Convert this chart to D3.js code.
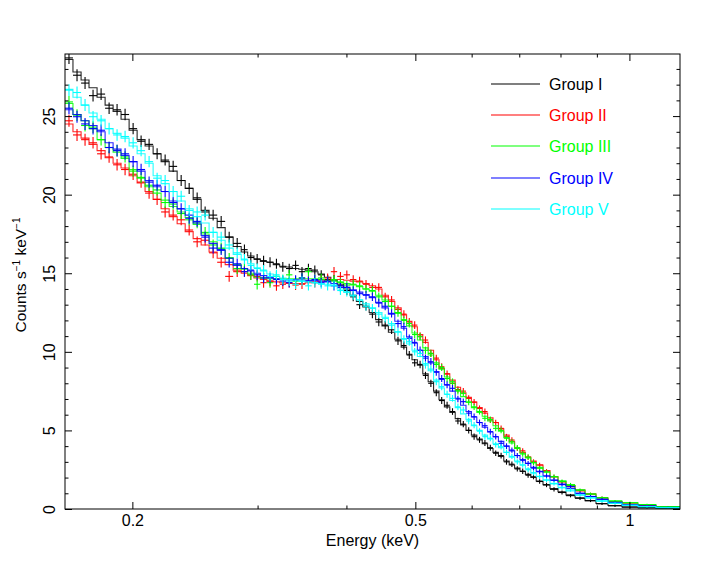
<!DOCTYPE html>
<html>
<head>
<meta charset="utf-8">
<script src="https://cdn.jsdelivr.net/npm/d3@7"></script>
<style>
  body { margin: 0; background: #fff; }
  svg { display: block; font-family: "Liberation Sans", Arial, Helvetica, sans-serif; }
</style>
</head>
<body>
<svg id="chart" width="725" height="564"></svg>
<script>
// ---- Data ----
const binEdges = [
  0.1608,0.1650,0.1694,0.1738,0.1784,0.1831,0.1879,0.1928,0.1979,0.2031,0.2084,0.2139,0.2195,0.2253,0.2312,0.2373,0.2435,0.2499,0.2564,0.2632,0.2701,0.2772,
  0.2845,0.2905,0.2965,0.3027,0.3091,0.3156,0.3222,0.3289,0.3358,0.3428,0.3500,0.3574,0.3648,0.3725,0.3803,0.3882,0.3964,0.4047,0.4131,0.4218,0.4306,0.4396,0.4488,0.4582,0.4678,
  0.4776,0.4860,0.4946,0.5033,0.5122,0.5212,0.5304,0.5398,0.5493,0.5590,0.5689,0.5789,0.5891,0.5995,0.6101,0.6209,0.6318,0.6430,0.6543,0.6658,0.6776,0.6895,0.7017,0.7141,0.7267,
  0.7395,0.7560,0.7733,0.7936,0.8144,0.8386,0.8661,0.8975,0.9331,0.9763,1.0283,1.0899,
  1.1782
];

const errors = [
  0.38,0.38,0.38,0.37,0.37,0.37,0.37,0.36,0.36,0.36,0.36,0.35,0.35,0.35,0.35,0.35,0.34,0.34,0.34,0.34,0.34,0.34,
  0.33,0.33,0.33,0.32,0.32,0.32,0.31,0.31,0.31,0.3,0.3,0.3,0.29,0.29,0.29,0.28,0.28,0.28,0.27,0.27,0.27,0.27,0.26,0.26,0.26,
  0.25,0.25,0.24,0.24,0.23,0.23,0.22,0.22,0.22,0.21,0.21,0.2,0.2,0.2,0.19,0.19,0.19,0.18,0.18,0.18,0.17,0.17,0.17,0.16,0.16,
  0.15,0.14,0.13,0.12,0.11,0.1,0.09,0.08,0.07,0.06,0.05,0.04
];

const groupNames = ["Group I", "Group II", "Group III", "Group IV", "Group V"];
const groupColors = ["#000000", "#ff0000", "#00ff00", "#0000ff", "#00ffff"];

const modelI = [
  28.6,27.8,27.3,26.8,26.2,25.7,25.3,24.8,24.1,23.5,23.1,22.6,22.1,21.5,20.9,20.4,19.7,19.0,18.5,17.9,17.3,16.7,
  16.35,16.1,15.9,15.75,15.7,15.55,15.45,15.4,15.3,15.25,15.2,15.1,14.95,14.75,14.55,14.3,14.0,13.6,13.2,12.85,12.5,12.05,11.65,11.25,10.8,
  10.3,9.85,9.5,9.15,8.6,8.1,7.5,6.95,6.5,6.15,5.75,5.35,5.0,4.7,4.45,4.15,3.85,3.6,3.35,3.05,2.8,2.6,2.4,2.2,2.0,
  1.78,1.55,1.3,1.1,0.9,0.72,0.53,0.35,0.22,0.13,0.09,0.05
];
const dataI = [
  28.7,27.6,27.1,26.3,26.4,25.5,25.4,25.1,24.2,23.4,23.2,22.6,22.2,21.8,20.9,20.4,19.8,18.9,18.7,18.3,17.3,16.9,
  16.5,16.0,15.9,15.8,15.7,15.6,15.4,15.3,15.5,15.1,15.3,15.2,14.9,14.6,14.6,14.2,13.9,13.5,13.0,12.9,12.4,11.9,11.7,11.4,10.7,
  10.4,9.8,9.3,9.2,8.5,8.0,7.4,6.9,6.6,6.2,5.6,5.4,5.0,4.6,4.4,4.2,3.9,3.55,3.4,3.0,2.85,2.55,2.4,2.15,2.05,
  1.75,1.53,1.25,1.05,0.85,0.68,0.53,0.33,0.2,0.12,0.08,0.05
];

const modelII = [
  24.5,24.0,23.6,23.2,22.8,22.35,22.0,21.7,21.2,20.75,20.2,19.7,19.1,18.6,18.15,17.65,17.2,16.8,16.35,15.95,15.55,15.2,
  15.0,14.85,14.7,14.6,14.5,14.45,14.4,14.35,14.35,14.35,14.4,14.45,14.5,14.55,14.6,14.6,14.55,14.5,14.45,14.35,14.2,14.0,13.6,13.2,12.8,
  12.35,11.95,11.6,11.1,10.6,10.1,9.5,8.95,8.6,8.2,7.75,7.4,7.1,6.8,6.45,6.1,5.8,5.5,5.1,4.7,4.3,3.9,3.6,3.3,3.05,
  2.8,2.45,2.05,1.75,1.5,1.2,0.95,0.7,0.48,0.3,0.22,0.12
];
const dataII = [
  24.7,23.8,23.5,23.3,22.6,22.4,21.9,21.6,21.3,20.8,20.1,19.7,18.9,18.7,18.4,17.75,17.0,17.1,16.3,15.7,14.8,15.1,
  15.1,14.9,14.8,14.4,14.5,14.2,14.3,14.4,14.25,14.3,14.5,14.4,14.6,14.7,15.1,14.8,14.9,14.6,14.5,14.3,14.1,14.1,13.5,13.3,12.7,
  12.4,11.9,11.7,11.0,10.75,9.9,9.6,9.05,8.6,8.0,7.6,7.5,7.04,6.8,6.4,6.2,5.66,5.5,5.13,4.6,4.39,3.86,3.7,3.3,3.0,
  2.8,2.4,2.05,1.72,1.42,1.15,0.95,0.72,0.46,0.32,0.2,0.12
];

const modelIII = [
  25.8,25.1,24.7,24.2,23.5,23.0,22.7,22.3,21.6,21.05,20.5,20.1,19.65,19.25,18.9,18.55,18.1,17.5,17.0,16.55,16.0,15.55,
  15.25,15.0,14.75,14.7,14.65,14.65,14.65,14.65,14.65,14.65,14.65,14.65,14.6,14.55,14.5,14.45,14.35,14.25,14.15,14.0,13.85,13.6,13.3,12.9,12.45,
  12.05,11.65,11.2,10.75,10.25,9.8,9.3,8.9,8.4,8.0,7.55,7.15,6.8,6.45,6.15,5.9,5.6,5.3,4.95,4.55,4.2,3.85,3.55,3.25,2.95,
  2.65,2.35,2.05,1.8,1.5,1.2,0.95,0.7,0.5,0.4,0.28,0.16
];
const dataIII = [
  25.9,25.06,24.4,24.3,23.5,23.0,22.8,22.4,21.5,21.1,20.6,20.3,19.5,19.4,18.8,18.4,18.2,17.6,16.8,16.6,15.95,15.3,
  15.3,14.9,14.3,14.7,14.4,14.8,14.6,14.9,14.5,14.7,15.1,14.6,14.7,14.5,14.6,14.4,14.25,14.3,14.2,14.0,13.9,13.5,13.2,12.9,12.5,
  12.0,11.8,11.1,10.96,10.1,9.9,9.2,9.0,8.3,8.1,7.5,7.36,6.8,6.5,6.2,5.77,5.7,5.13,5.0,4.5,4.28,3.9,3.5,3.3,2.95,
  2.59,2.35,2.06,1.75,1.55,1.21,0.95,0.72,0.51,0.4,0.28,0.15
];

const modelIV = [
  25.4,25.1,24.7,24.4,24.0,23.3,22.9,22.5,22.1,21.5,20.9,20.5,20.2,19.6,19.1,18.7,18.2,17.4,16.9,16.45,15.95,15.5,
  15.3,15.15,15.0,14.85,14.75,14.65,14.6,14.58,14.57,14.57,14.55,14.53,14.5,14.45,14.35,14.2,14.1,13.95,13.8,13.65,13.45,13.15,12.8,12.4,11.95,
  11.5,10.95,10.55,10.1,9.7,9.3,8.75,8.25,7.9,7.5,7.05,6.6,6.2,5.85,5.5,5.2,4.9,4.6,4.3,4.0,3.7,3.4,3.15,2.9,2.65,
  2.4,2.1,1.82,1.58,1.3,1.0,0.8,0.6,0.42,0.28,0.18,0.1
];
const dataIV = [
  25.5,24.96,24.5,24.2,24.1,23.0,22.8,22.6,22.1,21.6,20.8,20.6,20.2,19.5,19.1,18.5,18.3,17.3,16.6,16.5,15.7,15.6,
  15.1,15.2,14.9,14.7,14.7,14.6,14.5,14.4,14.57,14.7,14.5,14.6,14.4,14.5,14.2,14.1,14.1,13.9,13.7,13.6,13.5,13.1,12.9,12.45,11.8,
  11.6,10.86,10.6,10.1,9.6,9.37,8.7,8.3,7.9,7.68,7.0,6.83,6.1,5.87,5.5,5.3,4.92,4.6,4.18,4.0,3.75,3.4,3.1,2.9,2.6,
  2.37,2.1,1.84,1.55,1.42,1.0,0.8,0.62,0.4,0.28,0.18,0.1
];

const modelV = [
  26.7,26.2,25.7,25.2,24.8,24.2,23.9,23.6,23.1,22.6,22.0,21.2,20.7,20.2,19.6,19.1,18.6,18.2,17.6,17.1,16.6,16.2,
  15.85,15.6,15.35,15.15,14.95,14.8,14.7,14.6,14.55,14.5,14.45,14.4,14.35,14.3,14.2,14.0,13.8,13.55,13.3,13.05,12.8,12.5,12.2,11.8,11.25,
  10.85,10.5,10.1,9.7,9.25,8.8,8.2,7.7,7.3,6.9,6.45,6.05,5.7,5.3,5.0,4.7,4.45,4.15,3.9,3.6,3.3,3.05,2.8,2.55,2.3,
  2.08,1.83,1.6,1.38,1.15,0.9,0.72,0.52,0.36,0.24,0.15,0.08
];
const dataV = [
  26.65,26.5,25.7,24.96,24.7,24.2,23.8,23.7,23.3,22.8,22.1,21.05,20.9,20.2,19.9,19.0,18.9,18.7,17.6,17.3,16.8,16.3,
  15.9,15.5,15.3,15.2,14.8,14.9,14.6,14.5,14.3,14.5,14.2,14.4,14.3,14.2,14.25,13.9,13.8,13.6,13.3,12.9,12.77,12.4,12.13,11.7,11.28,
  10.8,10.64,10.0,9.9,9.16,8.9,8.1,7.78,7.3,7.04,6.5,6.3,5.6,5.34,4.95,4.6,4.5,4.1,3.96,3.6,3.35,3.0,2.8,2.5,2.3,
  2.06,1.85,1.63,1.35,1.21,0.89,0.7,0.5,0.36,0.24,0.15,0.08
];

const xTicks = [0.2, 0.5, 1];
const xTickLabels = ["0.2", "0.5", "1"];
const xMinorTicks = [0.3, 0.4, 0.6, 0.7, 0.8, 0.9];
const yTicks = [0, 5, 10, 15, 20, 25];
const xTitle = "Energy (keV)";

// ---- Build ----
const models = [modelI, modelII, modelIII, modelIV, modelV];
const datas = [dataI, dataII, dataIII, dataIV, dataV];

const L = 65, R = 680, T = 54, B = 509;
const FONT = '"Liberation Sans", Arial, Helvetica, sans-serif';
const svg = d3.select("#chart");
svg.append("rect").attr("width", 725).attr("height", 564).attr("fill", "#fff");

const x = d3.scaleLog().domain([0.1608, 1.178]).range([L, R]);
const y = d3.scaleLinear().domain([0, 28.95]).range([B, T]);

svg.append("defs").append("clipPath").attr("id", "clip")
  .append("rect").attr("x", L).attr("y", T).attr("width", R - L).attr("height", B - T);

const plot = svg.append("g").attr("clip-path", "url(#clip)");

const stepLine = d3.line().curve(d3.curveStepAfter).x(d => x(d[0])).y(d => y(d[1]));

models.forEach((m, g) => {
  const pts = m.map((v, i) => [binEdges[i], v]);
  pts.push([binEdges[m.length], m[m.length - 1]]);
  const col = groupColors[g];
  const dat = datas[g];
  const gg = plot.append("g");
  dat.forEach((v, i) => {
    const e0 = binEdges[i], e1 = binEdges[i + 1];
    const ec = Math.sqrt(e0 * e1);
    gg.append("line")
      .attr("x1", x(e0)).attr("x2", x(e1))
      .attr("y1", y(v)).attr("y2", y(v))
      .attr("stroke", col).attr("stroke-width", 1.1);
    gg.append("line")
      .attr("x1", x(ec)).attr("x2", x(ec))
      .attr("y1", y(v - errors[i])).attr("y2", y(v + errors[i]))
      .attr("stroke", col).attr("stroke-width", 1.1);
  });
  gg.append("path").datum(pts)
    .attr("d", stepLine)
    .attr("fill", "none")
    .attr("stroke", col)
    .attr("stroke-width", 1.1)
    .attr("stroke-opacity", 0.85);
});

// ---- Axes ----
function styleAxis(sel) {
  sel.select(".domain").remove();
  sel.selectAll(".tick line").attr("stroke", "#000").attr("stroke-width", 1);
  sel.selectAll("text").attr("fill", "#000").style("font-size", "16px")
    .style("font-family", FONT);
}

svg.append("g").attr("transform", `translate(0,${B})`)
  .call(d3.axisBottom(x).tickValues(xTicks)
    .tickFormat(d => xTickLabels[xTicks.indexOf(d)])
    .tickSizeInner(-7).tickSizeOuter(0).tickPadding(6))
  .call(styleAxis);
svg.append("g").attr("transform", `translate(0,${B})`)
  .call(d3.axisBottom(x).tickValues(xMinorTicks).tickFormat("")
    .tickSizeInner(-3.5).tickSizeOuter(0))
  .call(styleAxis);
svg.append("g").attr("transform", `translate(0,${T})`)
  .call(d3.axisTop(x).tickValues(xTicks).tickFormat("")
    .tickSizeInner(-7).tickSizeOuter(0))
  .call(styleAxis);
svg.append("g").attr("transform", `translate(0,${T})`)
  .call(d3.axisTop(x).tickValues(xMinorTicks).tickFormat("")
    .tickSizeInner(-3.5).tickSizeOuter(0))
  .call(styleAxis);

const yMinor = d3.range(0, 29, 1).filter(v => v % 5 !== 0);
const yl = svg.append("g").attr("transform", `translate(${L},0)`)
  .call(d3.axisLeft(y).tickValues(yTicks).tickFormat(d3.format("d"))
    .tickSizeInner(-7).tickSizeOuter(0))
  .call(styleAxis);
yl.selectAll("text")
  .attr("x", 0).attr("dy", 0)
  .attr("text-anchor", "middle")
  .attr("transform", "translate(-10,0) rotate(-90)");
svg.append("g").attr("transform", `translate(${L},0)`)
  .call(d3.axisLeft(y).tickValues(yMinor).tickFormat("")
    .tickSizeInner(-3.5).tickSizeOuter(0))
  .call(styleAxis);
svg.append("g").attr("transform", `translate(${R},0)`)
  .call(d3.axisRight(y).tickValues(yTicks).tickFormat("")
    .tickSizeInner(-7).tickSizeOuter(0))
  .call(styleAxis);
svg.append("g").attr("transform", `translate(${R},0)`)
  .call(d3.axisRight(y).tickValues(yMinor).tickFormat("")
    .tickSizeInner(-3.5).tickSizeOuter(0))
  .call(styleAxis);

svg.append("rect").attr("x", L).attr("y", T).attr("width", R - L).attr("height", B - T)
  .attr("fill", "none").attr("stroke", "#000").attr("stroke-width", 1);

// titles
svg.append("text").attr("x", (L + R) / 2).attr("y", 546)
  .attr("text-anchor", "middle").style("font-size", "16px").attr("fill", "#000")
  .text(xTitle);

const yt = svg.append("text")
  .attr("transform", "translate(26,275) rotate(-90)")
  .attr("text-anchor", "middle").style("font-size", "15.5px").attr("fill", "#000");
yt.append("tspan").text("Counts s");
yt.append("tspan").attr("dy", -6).style("font-size", "10px").text("\u22121");
yt.append("tspan").attr("dy", 6).text(" keV");
yt.append("tspan").attr("dy", -6).style("font-size", "10px").text("\u22121");

// legend
const legRows = [84, 115, 146, 178, 209];
groupNames.forEach((name, g) => {
  const ly = legRows[g];
  svg.append("line").attr("x1", 491).attr("x2", 540).attr("y1", ly).attr("y2", ly)
    .attr("stroke", groupColors[g]).attr("stroke-width", 1.1);
  svg.append("text").attr("x", 549).attr("y", ly + 6)
    .style("font-size", "16px").attr("fill", groupColors[g]).text(name);
});
</script>
</body>
</html>
